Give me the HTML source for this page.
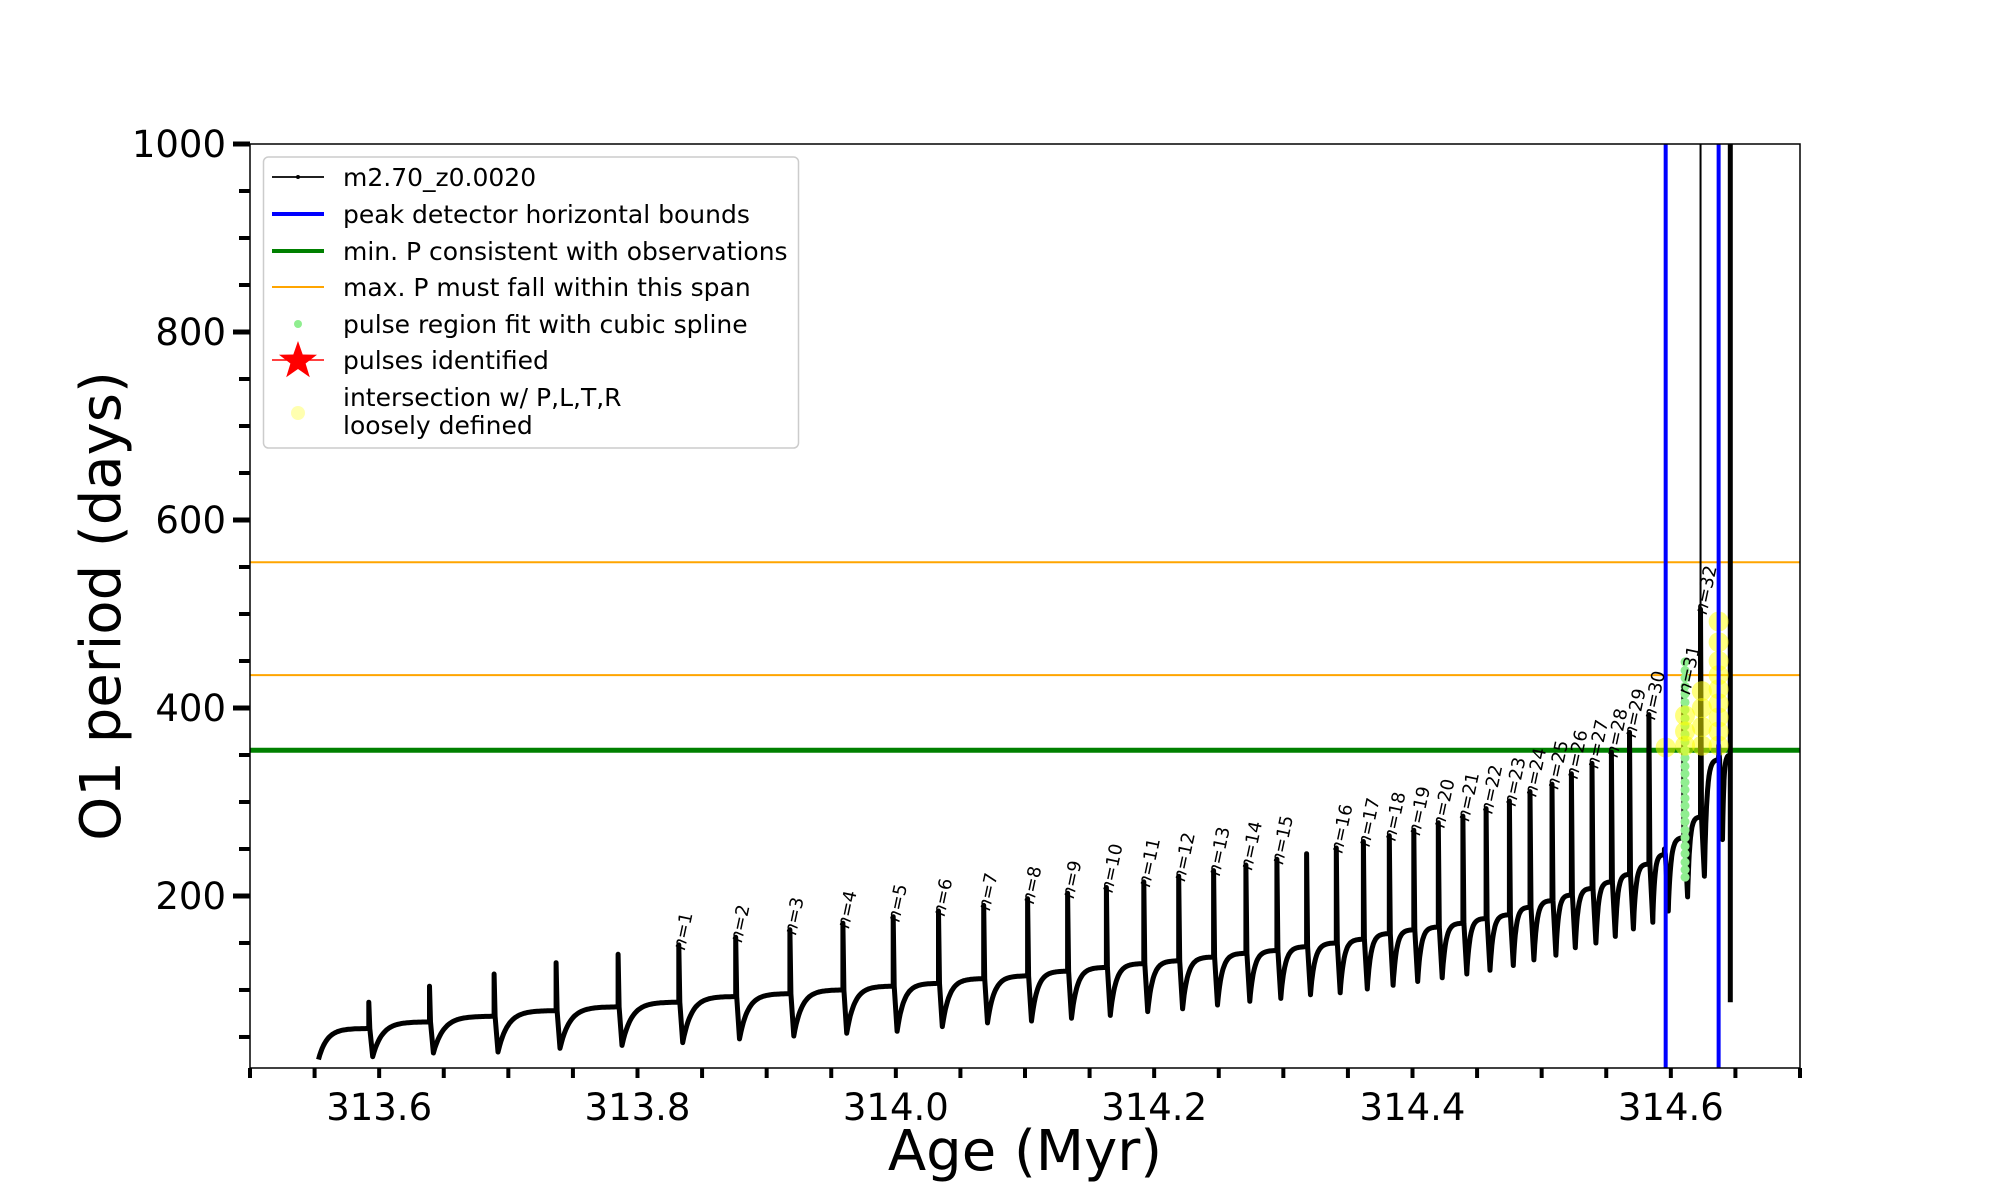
<!DOCTYPE html>
<html><head><meta charset="utf-8"><style>
html,body{margin:0;padding:0;background:#fff;}
svg{display:block;font-family:"DejaVu Sans","Liberation Sans",sans-serif;}
</style></head><body>
<svg id="chart" width="2000" height="1200" viewBox="0 0 2000 1200" xmlns="http://www.w3.org/2000/svg">
<rect x="0" y="0" width="2000" height="1200" fill="#fff"/>
<g id="plot"></g>
</svg>
<script>
// ---- data ----
const pulseAges = [313.592,313.639,313.689,313.737,313.785,313.832,313.876,313.918,313.959,313.998,314.033,314.068,314.102,314.133,314.163,314.192,314.219,314.246,314.271,314.295,314.318,314.341,314.362,314.382,314.401,314.420,314.439,314.457,314.475,314.491,314.508,314.523,314.539,314.554,314.568,314.583,314.595,314.610,314.623,314.637];
const pulsePeaks = [87,104,117,129,138,148,156,164,171,178,184,190,197,203,209,215,221,227,233,239,245,251,258,264,270,278,285,293,301,311,319,330,341,353,374,393,250,420,505,360];
const preLevels = [59,66,72,78,82,87,93,96,100,104,107,112,115,120,124,128,131,135,139,142,146,150,154,160,164,167,171,176,180,188,195,201,208,215,223,234,244,262,284,345];
const dipLevels = [29,33,34,38,41,44,48,51,54,56,61,65,67,70,73,77,80,84,88,91,95,97,101,105,109,113,117,121,126,132,137,145,150,157,165,172,184,199,221,260];
const pulseLabels = [0,0,0,0,0,1,2,3,4,5,6,7,8,9,10,11,12,13,14,15,0,16,17,18,19,20,21,22,23,24,25,26,27,28,29,30,0,31,32,0];
const startAge = 313.553, startVal = 26;
const finalAge = 314.646, finalPre = 350, finalTop = 1000, finalLow = 87;
const thinSpikeAges = [314.623, 314.637];
const thinSpikeTops = [1000, 1000];
const splineAge = 314.611;
const splineVals = [220,228,236,245,253,262,270,279,287,296,304,313,321,330,338,347,355,364,372,381,389,398,406,415,423,432,440,449];
const yellowAges = [314.596,314.611,314.611,314.611,314.624,314.624,314.624,314.624,314.637,314.637,314.637,314.637,314.637,314.637,314.637,314.637,314.637];
const yellowVals = [358,360,375,392,360,380,400,418,360,375,390,405,420,435,450,470,492];
const orangeLevels = [555, 435];
const greenLevel = 355;
const blueAges = [314.596, 314.637];
const xTickLabels = ["313.6","313.8","314.0","314.2","314.4","314.6"];
const xTickValues = [313.6,313.8,314.0,314.2,314.4,314.6];
const yTickLabels = ["200","400","600","800","1000"];
const yTickValues = [200,400,600,800,1000];

// ---- axes ----
const L=250,R=1800,T=144,B=1068, xmin=313.5,xmax=314.7,ymin=17,ymax=1000;
const X=a=>L+(a-xmin)/(xmax-xmin)*(R-L);
const Y=v=>B-(v-ymin)/(ymax-ymin)*(B-T);
const NS="http://www.w3.org/2000/svg";
const plot=document.getElementById('plot');
function mk(tag,attrs,parent){const e=document.createElementNS(NS,tag);for(const k in attrs)e.setAttribute(k,attrs[k]);(parent||plot).appendChild(e);return e;}

const defs=mk('defs',{});
const cp=mk('clipPath',{id:'clip'},defs);
mk('rect',{x:L,y:T,width:R-L,height:B-T},cp);
const inner=mk('g',{'clip-path':'url(#clip)'});



orangeLevels.forEach((v,i)=>{
  const l=mk('line',{x1:L,x2:R,y1:Y(v),y2:Y(v),stroke:'#ffa500','stroke-width':2},inner);
  
  
});
const gl=mk('line',{x1:L,x2:R,y1:Y(greenLevel),y2:Y(greenLevel),stroke:'#008000','stroke-width':5},inner);



let pts=[];
function recover(a0,v0,a1,v1){
  const n=40;
  for(let k=0;k<=n;k++){const u=k/n;const f=(1-Math.exp(-6*u))/(1-Math.exp(-6));pts.push([X(a0+(a1-a0)*u),Y(v0+(v1-v0)*f)]);}
}
recover(startAge,startVal,pulseAges[0],preLevels[0]);
for(let i=0;i<pulseAges.length;i++){
  const a=pulseAges[i];
  pts.push([X(a),Y(preLevels[i])]);
  pts.push([X(a),Y(pulsePeaks[i])]);
  pts.push([X(a)+1,Y(preLevels[i])]);
  const ad=a+0.003;
  pts.push([X(ad),Y(dipLevels[i])]);
  const next= i+1<pulseAges.length? pulseAges[i+1]:finalAge;
  const nextPre= i+1<pulseAges.length? preLevels[i+1]:finalPre;
  recover(ad,dipLevels[i],next,nextPre);
}
pts.push([X(finalAge),Y(finalTop)]);
pts.push([X(finalAge),Y(finalLow)]);
const curve=mk('polyline',{points:pts.map(p=>p[0].toFixed(1)+','+p[1].toFixed(1)).join(' '),fill:'none',stroke:'#000','stroke-width':5,'stroke-linejoin':'round'},inner);


thinSpikeAges.forEach((a,i)=>{
  const l=mk('line',{x1:X(a),x2:X(a),y1:Y(pulsePeaks[38]),y2:Y(thinSpikeTops[i]),stroke:'#000','stroke-width':2},inner);
  
  
});

splineVals.forEach((v,i)=>{
  const c=mk('circle',{cx:X(splineAge),cy:Y(v),r:4.5,fill:'#90ee90'},inner);
  
  
});
yellowAges.forEach((a,i)=>{
  const c=mk('circle',{cx:X(a),cy:Y(yellowVals[i]),r:10,fill:'#ffff00','fill-opacity':0.5},inner);
  
  
});
blueAges.forEach((a,i)=>{
  const l=mk('line',{x1:X(a),x2:X(a),y1:T,y2:B,stroke:'#0000ff','stroke-width':4},inner);
  
  
});

pulseLabels.forEach((n,i)=>{
  if(!n)return;
  const x=X(pulseAges[i])+6, y=Y(pulsePeaks[i])+6;
  const t=mk('text',{x:0,y:0,transform:`translate(${x.toFixed(1)},${y.toFixed(1)}) rotate(-78)`,'font-size':18,fill:'#000'});
  
  
  const ts=mk('tspan',{'font-style':'italic'},t);ts.textContent='n';
  const ts2=mk('tspan',{},t);ts2.textContent='='+n;
});

const fr=mk('rect',{x:L,y:T,width:R-L,height:B-T,fill:'none',stroke:'#000','stroke-width':1.5});



for(let k=0;k<=24;k++){
  const a=xmin+k*0.05;
  const l=mk('line',{x1:X(a),x2:X(a),y1:B,y2:B+10,stroke:'#000','stroke-width':4});
  
  
}
xTickValues.forEach((v,i)=>{
  const t=mk('text',{x:X(v),y:1120,'font-size':37,'text-anchor':'middle',fill:'#000'});
  t.textContent=xTickLabels[i];
  
  
});
for(let v=50;v<=1000;v+=50){
  const major=v%200===0;
  const l=mk('line',{x1:L-(major?17:11),x2:L,y1:Y(v),y2:Y(v),stroke:'#000','stroke-width':major?5:4});
  
  
}
yTickValues.forEach((v,i)=>{
  const t=mk('text',{x:226,y:Y(v)+13,'font-size':37,'text-anchor':'end',fill:'#000'});
  t.textContent=yTickLabels[i];
  
  
});
const xt=mk('text',{x:1025,y:1170,'font-size':56,'text-anchor':'middle',fill:'#000'});
xt.textContent='Age (Myr)';


const yt=mk('text',{x:0,y:0,transform:'translate(120,606) rotate(-90)','font-size':56,'text-anchor':'middle',fill:'#000'});
yt.textContent='O1 period (days)';



const lg=mk('g',{});


mk('rect',{x:263.5,y:157,width:535,height:291,rx:5,fill:'#fff','fill-opacity':0.85,stroke:'#cccccc','stroke-width':1.5},lg);
const entries=[
 ['m2.70_z0.0020',177],['peak detector horizontal bounds',214],['min. P consistent with observations',251],
 ['max. P must fall within this span',287],['pulse region fit with cubic spline',324],['pulses identified',360]];
entries.forEach((e,i)=>{
  const t=mk('text',{x:343,y:e[1]+9,'font-size':25,fill:'#000'},lg);
  t.textContent=e[0];
  
  
});
const t7=mk('text',{x:343,y:406,'font-size':25,fill:'#000'},lg);
t7.textContent='intersection w/ P,L,T,R';


const t8=mk('text',{x:343,y:434,'font-size':25,fill:'#000'},lg);
t8.textContent='loosely defined';


mk('line',{x1:272,x2:324,y1:177,y2:177,stroke:'#000','stroke-width':1.8},lg);
mk('circle',{cx:298,cy:177,r:2,fill:'#000'},lg);
mk('line',{x1:272,x2:324,y1:214,y2:214,stroke:'#0000ff','stroke-width':4},lg);
mk('line',{x1:272,x2:324,y1:251,y2:251,stroke:'#008000','stroke-width':4},lg);
mk('line',{x1:272,x2:324,y1:287,y2:287,stroke:'#ffa500','stroke-width':2},lg);
mk('circle',{cx:298,cy:324,r:4,fill:'#90ee90'},lg);
mk('line',{x1:272,x2:324,y1:360,y2:360,stroke:'#ff0000','stroke-width':1.5},lg);
(function(){const cx=298,cy=361,ro=20,ri=8;let p=[];for(let k=0;k<10;k++){const r=k%2?ri:ro;const a=-Math.PI/2+k*Math.PI/5;p.push((cx+r*Math.cos(a)).toFixed(1)+','+(cy+r*Math.sin(a)).toFixed(1));}
mk('polygon',{points:p.join(' '),fill:'#ff0000'},lg);})();
mk('circle',{cx:298,cy:413,r:7,fill:'#ffffb0'},lg);
</script>
</body></html>
